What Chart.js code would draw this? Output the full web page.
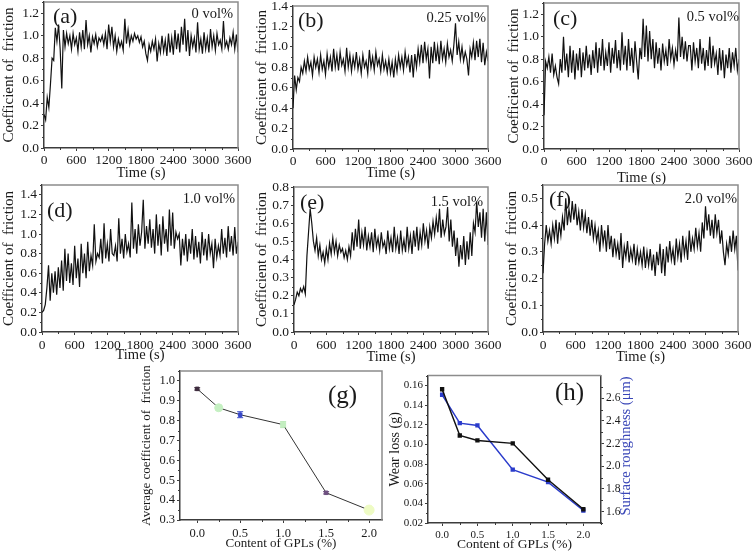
<!DOCTYPE html>
<html>
<head>
<meta charset="utf-8">
<script src="https://cdn.jsdelivr.net/npm/chart.js@4.4.1/dist/chart.umd.min.js"></script>
<style>
  html, body { margin: 0; padding: 0; background: #fff; }
  #fig { position: relative; width: 756px; height: 557px; overflow: hidden;
         font-family: 'Liberation Serif', 'Times New Roman', serif; color: #1a1a1a; }
  #fig canvas { position: absolute; }
  .tag { position: absolute; line-height: 1; white-space: nowrap; }
  .vol { position: absolute; font-size: 14.5px; line-height: 16px; white-space: nowrap; }
  .rtitle { position: absolute; font-size: 14.5px; line-height: 1; white-space: nowrap; color: #3a47b8;
            transform: translate(-50%, -50%) rotate(-90deg); }
</style>
</head>
<body>
<div id="fig"></div>
<script>
// sampling times of the friction traces (s)
const timeSec = [0,30,60,90,120,150,180,210,240,270,300,330,360,390,420,450,480,510,540,570,
  600,630,660,690,720,750,780,810,840,870,900,930,960,990,1020,1050,1080,1110,1140,1170,
  1200,1230,1260,1290,1320,1350,1380,1410,1440,1470,1500,1530,1560,1590,1620,1650,1680,1710,1740,1770,
  1800,1830,1860,1890,1920,1950,1980,2010,2040,2070,2100,2130,2160,2190,2220,2250,2280,2310,2340,2370,
  2400,2430,2460,2490,2520,2550,2580,2610,2640,2670,2700,2730,2760,2790,2820,2850,2880,2910,2940,2970,
  3000,3030,3060,3090,3120,3150,3180,3210,3240,3270,3300,3330,3360,3390,3420,3450,3480,3510,3540,3570,3600];

// coefficient of friction, one array per GPL content
const cof0 = [0.30,0.25,0.45,0.36,0.57,0.80,0.78,1.07,0.95,1.10,
  0.88,0.53,1.05,0.90,1.02,0.93,1.00,0.88,1.02,0.92,
  0.98,0.86,1.03,0.90,1.05,0.88,1.14,0.92,1.00,0.85,
  0.99,0.93,1.01,0.90,0.98,0.95,1.00,0.92,1.02,0.88,
  1.10,0.95,1.08,0.90,1.00,0.86,0.97,0.90,0.95,0.87,
  1.15,0.93,1.05,0.92,1.00,0.95,1.02,0.97,1.00,0.94,
  0.99,0.90,0.95,0.84,0.78,0.92,0.86,0.95,0.88,0.97,
  0.77,0.93,0.85,1.00,0.86,0.96,0.82,1.02,0.85,0.98,
  0.83,1.05,0.88,1.02,0.85,1.08,0.92,1.15,0.86,1.05,
  0.82,1.00,0.90,0.98,0.85,1.12,0.88,0.97,0.84,1.03,
  0.88,0.98,0.85,1.06,0.90,1.00,0.87,1.02,0.92,0.96,
  0.88,1.13,0.90,0.95,0.88,0.98,0.92,1.03,0.88,1.01,
  0.85];
const cof025 = [0.40,0.72,0.58,0.70,0.66,0.80,0.74,0.86,0.76,0.90,
  0.78,0.85,0.72,0.90,0.80,0.88,0.75,0.92,0.78,0.86,
  0.73,0.93,0.80,0.90,0.76,0.98,0.80,0.92,0.77,0.95,
  0.82,0.88,0.76,0.99,0.80,0.92,0.76,0.90,0.80,0.95,
  0.78,0.88,0.74,0.92,0.80,0.86,0.74,0.97,0.80,0.90,
  0.77,0.95,0.82,0.88,0.76,0.92,0.78,0.86,0.75,0.88,
  0.74,0.85,0.70,0.88,0.76,0.92,0.80,0.90,0.77,0.95,
  0.82,0.90,0.75,0.92,0.70,0.93,0.80,0.98,0.85,1.02,
  0.84,1.05,0.88,0.98,0.69,1.00,0.84,1.05,0.86,1.00,
  0.83,1.06,0.88,0.98,0.85,1.03,0.90,0.97,0.86,1.02,
  1.23,0.92,1.05,0.88,1.00,0.86,0.95,0.88,0.72,0.98,
  0.90,1.04,0.87,1.06,0.90,1.08,0.85,1.04,0.82,0.95,
  0.86];
const cof05 = [0.30,0.78,0.72,0.82,0.68,0.85,0.66,0.74,0.64,0.58,
  0.80,0.68,1.00,0.70,0.85,0.64,0.92,0.68,0.88,0.62,
  0.85,0.70,0.90,0.64,0.86,0.70,0.92,0.72,0.84,0.66,
  0.88,0.72,0.95,0.68,0.90,0.74,0.98,0.70,0.86,0.74,
  0.95,0.68,0.90,0.76,0.97,0.72,0.88,0.70,1.04,0.75,
  0.92,0.70,0.98,0.74,0.90,0.68,0.96,0.78,0.62,0.90,
  0.80,1.16,0.82,1.10,0.78,1.05,0.80,0.98,0.72,0.95,
  0.76,0.90,0.70,0.94,0.78,0.88,0.74,0.98,0.80,0.90,
  0.75,0.88,0.78,1.17,0.82,1.00,0.80,0.96,0.78,0.92,
  0.92,0.70,0.95,0.78,0.90,0.72,0.98,0.76,0.90,0.70,
  0.88,0.74,1.00,0.72,0.92,0.76,0.85,0.66,0.90,0.70,
  0.88,0.63,0.84,0.72,0.90,0.68,0.86,0.74,0.90,0.70,
  0.80];
const cof10 = [0.20,0.22,0.28,0.45,0.68,0.32,0.60,0.40,0.62,0.38,
  0.66,0.45,0.73,0.42,0.85,0.52,0.80,0.50,0.70,0.48,
  0.88,0.55,0.75,0.46,0.90,0.60,0.80,0.55,0.92,0.62,
  0.78,0.68,1.10,0.72,0.80,0.76,0.95,0.70,1.11,0.75,
  0.90,0.72,1.05,0.80,0.78,0.88,0.72,1.16,0.80,0.95,
  0.75,1.00,0.82,0.90,0.76,1.32,0.85,1.05,0.80,1.10,
  0.88,1.02,1.35,0.85,1.08,0.90,1.15,0.86,1.05,0.80,
  1.20,0.88,1.10,0.78,1.18,0.90,1.05,0.82,1.25,0.88,
  1.22,0.85,1.02,0.95,1.00,0.68,0.95,0.78,1.00,0.72,
  0.95,0.80,1.05,0.74,0.98,0.76,0.92,0.70,1.02,0.78,
  0.95,0.73,1.00,0.80,0.90,0.65,0.95,0.76,0.88,0.78,
  1.05,0.80,0.96,0.76,1.08,0.82,0.98,0.78,1.07,0.80,
  0.92];
const cof15 = [0.15,0.18,0.22,0.20,0.24,0.22,0.25,0.21,0.42,0.55,
  0.68,0.60,0.50,0.45,0.52,0.42,0.48,0.40,0.44,0.38,
  0.46,0.40,0.49,0.43,0.52,0.44,0.50,0.42,0.48,0.44,
  0.46,0.41,0.45,0.40,0.47,0.42,0.55,0.45,0.57,0.47,
  0.62,0.46,0.55,0.48,0.58,0.45,0.53,0.47,0.55,0.44,
  0.57,0.47,0.52,0.45,0.55,0.47,0.50,0.43,0.56,0.46,
  0.52,0.44,0.58,0.46,0.52,0.43,0.56,0.45,0.51,0.44,
  0.58,0.46,0.53,0.43,0.56,0.47,0.58,0.45,0.55,0.48,
  0.60,0.50,0.56,0.46,0.58,0.52,0.61,0.54,0.63,0.55,
  0.68,0.52,0.62,0.54,0.58,0.69,0.50,0.62,0.47,0.56,
  0.42,0.52,0.36,0.48,0.40,0.53,0.37,0.50,0.40,0.55,
  0.42,0.60,0.55,0.72,0.58,0.66,0.52,0.68,0.50,0.66,
  0.48];
const cof20 = [0.22,0.33,0.40,0.34,0.38,0.33,0.40,0.35,0.42,0.33,
  0.41,0.36,0.43,0.38,0.50,0.40,0.46,0.41,0.49,0.42,
  0.48,0.40,0.45,0.38,0.46,0.39,0.44,0.37,0.43,0.36,
  0.42,0.35,0.40,0.34,0.38,0.30,0.40,0.33,0.38,0.30,
  0.40,0.31,0.36,0.28,0.35,0.29,0.33,0.27,0.37,0.24,
  0.32,0.28,0.34,0.26,0.31,0.27,0.33,0.25,0.31,0.26,
  0.30,0.25,0.32,0.24,0.30,0.25,0.31,0.23,0.29,0.21,
  0.30,0.25,0.33,0.22,0.31,0.21,0.32,0.26,0.34,0.27,
  0.31,0.25,0.35,0.28,0.33,0.26,0.36,0.29,0.34,0.27,
  0.38,0.30,0.35,0.31,0.39,0.32,0.37,0.30,0.41,0.35,
  0.47,0.38,0.44,0.36,0.42,0.35,0.44,0.37,0.42,0.33,
  0.38,0.30,0.25,0.33,0.29,0.36,0.30,0.38,0.31,0.36,
  0.23];

// summary panels
const gplContent = [0, 0.25, 0.5, 1.0, 1.5, 2.0];
const avgFriction = [0.96, 0.865, 0.83, 0.78, 0.437, 0.35];
const avgFrictionErr = [0.006, 0, 0.015, 0.015, 0.006, 0];
const wearLoss = [0.156, 0.109, 0.104, 0.101, 0.064, 0.034];
const roughness = [2.63, 2.38, 2.36, 1.97, 1.86, 1.61];

const SERIF = "'Liberation Serif', 'Times New Roman', serif";
const INK = '#1a1a1a';
const AXIS = '#3c3c3c';
const BLUE = '#2b3ccb';

const fig = document.getElementById('fig');

function addCanvas(x, y, w, h) {
  const c = document.createElement('canvas');
  c.width = w; c.height = h;
  c.style.left = x + 'px'; c.style.top = y + 'px';
  c.style.width = w + 'px'; c.style.height = h + 'px';
  fig.appendChild(c);
  return c;
}

function addText(cls, text, css) {
  const d = document.createElement('div');
  d.className = cls;
  d.textContent = text;
  Object.assign(d.style, css);
  fig.appendChild(d);
}

// light top / right frame lines like the Origin plots
const framePlugin = {
  id: 'frame',
  afterDraw(chart) {
    const a = chart.chartArea, ctx = chart.ctx;
    ctx.save();
    ctx.strokeStyle = '#8c8c8c';
    ctx.lineWidth = 1.5;
    ctx.beginPath();
    ctx.moveTo(a.left, a.top);
    ctx.lineTo(a.right, a.top);
    if (!chart.options.scales.y2) ctx.lineTo(a.right, a.bottom);
    ctx.stroke();
    ctx.restore();
  }
};

// short unlabeled ticks halfway between the major ones
const minorTickPlugin = {
  id: 'minorTicks',
  afterDraw(chart) {
    const ctx = chart.ctx;
    ctx.save();
    ctx.strokeStyle = AXIS;
    ctx.lineWidth = 1;
    Object.values(chart.scales).forEach(s => {
      const t = s.ticks.map(k => k.value);
      const mids = [];
      for (let i = 0; i + 1 < t.length; i++) mids.push((t[i] + t[i + 1]) / 2);
      if (t.length > 1) {
        const d = t[1] - t[0];
        if (t[0] - d / 2 >= s.min) mids.push(t[0] - d / 2);
        if (t[t.length - 1] + d / 2 <= s.max) mids.push(t[t.length - 1] + d / 2);
      }
      ctx.beginPath();
      mids.forEach(v => {
        const p = Math.round(s.getPixelForValue(v)) + 0.5;
        if (s.isHorizontal()) {
          ctx.moveTo(p, s.top); ctx.lineTo(p, s.top + 2);
        } else if (s.position === 'left') {
          ctx.moveTo(s.right, p); ctx.lineTo(s.right - 2, p);
        } else {
          ctx.moveTo(s.left, p); ctx.lineTo(s.left + 2, p);
        }
      });
      ctx.stroke();
    });
    ctx.restore();
  }
};

function fixW(w) {
  return function(s) { s.width = w; s.paddingTop = 0; s.paddingBottom = 0; s.paddingLeft = 0; s.paddingRight = 0; };
}
function fixH(h) {
  return function(s) { s.height = h; s.paddingTop = 0; s.paddingBottom = 0; s.paddingLeft = 0; s.paddingRight = 0; };
}

function axisBase(tickSize, digits, tickPad) {
  return {
    ticks: { font: { family: SERIF, size: tickSize }, color: INK, padding: tickPad,
             maxRotation: 0, autoSkip: false, includeBounds: false,
             callback: v => digits < 0 ? String(v) : Number(v).toFixed(digits) },
    grid: { drawOnChartArea: false, drawTicks: true, tickLength: 3, color: AXIS, lineWidth: 1 },
    border: { display: true, color: AXIS, width: 1.5 }
  };
}

// friction-vs-time panels: plot area [left, top, right, bottom] in page px
const tracePanels = [
  { vals: cof0,   yMax: 1.3,  step: 0.2, area: [44, 2, 238, 148],   axisW: 44, axisH: 34, tickPad: 1,
    tag: '(a)', tagAt: [53, 5],   vol: '0 vol%',    volAt: [233, 5] },
  { vals: cof025, yMax: 1.4,  step: 0.2, area: [293, 6, 488, 149],  axisW: 40, axisH: 33, tickPad: 1,
    tag: '(b)', tagAt: [298, 9],  vol: '0.25 vol%', volAt: [486, 9] },
  { vals: cof05,  yMax: 1.3,  step: 0.2, area: [544, 3, 739, 149],  axisW: 39, axisH: 38, tickPad: 1,
    tag: '(c)', tagAt: [553, 7],  vol: '0.5 vol%',  volAt: [739, 8] },
  { vals: cof10,  yMax: 1.5,  step: 0.2, area: [42, 185, 238, 332], axisW: 42, axisH: 32, tickPad: 2,
    tag: '(d)', tagAt: [47, 199], vol: '1.0 vol%',  volAt: [235, 190] },
  { vals: cof15,  yMax: 0.8,  step: 0.1, area: [294, 187, 488, 332], axisW: 41, axisH: 34, tickPad: 2,
    tag: '(e)', tagAt: [300, 191], vol: '1.5 vol%', volAt: [483, 193] },
  { vals: cof20,  yMax: 0.55, step: 0.1, area: [543, 185, 738, 332], axisW: 40, axisH: 34, tickPad: 2,
    tag: '(f)', tagAt: [549, 188], vol: '2.0 vol%', volAt: [737, 190] }
];

tracePanels.forEach(p => {
  const [L, T, R, B] = p.area;
  const padTop = Math.min(4, T), padRight = 16;
  const x0 = L - p.axisW, y0 = T - padTop;
  const cv = addCanvas(x0, y0, R + padRight - x0, B + p.axisH - y0);

  const xs = axisBase(13.5, -1, p.tickPad);
  Object.assign(xs, {
    type: 'linear', min: 0, max: 3600,
    title: { display: true, text: 'Time (s)', color: INK, padding: 0, font: { family: SERIF, size: 14.5 } },
    afterFit: fixH(p.axisH)
  });
  xs.ticks.stepSize = 600;

  const ys = axisBase(13.5, 1, 2);
  Object.assign(ys, {
    type: 'linear', min: 0, max: p.yMax,
    title: { display: true, text: 'Coefficient of  friction', color: INK, padding: 0, font: { family: SERIF, size: 15 } },
    afterFit: fixW(p.axisW)
  });
  ys.ticks.stepSize = p.step;

  new Chart(cv, {
    type: 'line',
    data: {
      datasets: [{
        data: timeSec.map((t, i) => ({ x: t, y: p.vals[i] })),
        borderColor: '#111', borderWidth: 1.2, pointRadius: 0, tension: 0
      }]
    },
    options: {
      responsive: false, animation: false,
      layout: { padding: { top: padTop, right: padRight, left: 0, bottom: 0 } },
      plugins: { legend: { display: false }, tooltip: { enabled: false } },
      scales: { x: xs, y: ys }
    },
    plugins: [framePlugin, minorTickPlugin]
  });

  addText('tag', p.tag, { left: p.tagAt[0] + 'px', top: p.tagAt[1] + 'px', fontSize: '22px' });
  addText('vol', p.vol, { right: (756 - p.volAt[0]) + 'px', top: p.volAt[1] + 'px' });
});

// (g) average coefficient of friction
const gMarker = {
  style:  ['rect', 'circle', 'rect', 'rect', 'rect', 'circle'],
  radius: [2.5, 4, 2.5, 3.5, 2.5, 5],
  fill:   ['#3d2b3d', '#c5f0c2', '#3848c8', '#c3eec0', '#6e5080', '#eefbc4'],
  err:    ['#3d2b3d', '#c5f0c2', '#3848c8', '#b2e4ae', '#6e5080', '#eefbc4']
};
(function() {
  const L = 180, T = 369, R = 382, B = 520, axisW = 41, axisH = 31, padTop = 4, padRight = 6;
  const x0 = L - axisW, y0 = T - padTop;
  const cv = addCanvas(x0, y0, R + padRight - x0, B + axisH - y0);

  const datasets = [{
    data: gplContent.map((c, i) => ({ x: c, y: avgFriction[i] })),
    showLine: true, borderColor: '#333', borderWidth: 1,
    pointStyle: gMarker.style, pointRadius: gMarker.radius,
    pointBackgroundColor: gMarker.fill, pointBorderColor: gMarker.fill, pointBorderWidth: 1
  }];
  gplContent.forEach((c, i) => {
    if (!avgFrictionErr[i]) return;
    datasets.push({
      data: [{ x: c, y: avgFriction[i] - avgFrictionErr[i] }, { x: c, y: avgFriction[i] + avgFrictionErr[i] }],
      showLine: true, borderColor: gMarker.err[i], borderWidth: 1,
      pointStyle: 'line', pointRadius: 3, pointBorderColor: gMarker.err[i], pointBorderWidth: 1
    });
  });

  const xs = axisBase(12.5, 1, 3);
  Object.assign(xs, {
    type: 'linear', min: -0.2, max: 2.15,
    title: { display: true, text: 'Content of GPLs (%)', color: INK, padding: 0, font: { family: SERIF, size: 13 } },
    afterFit: fixH(axisH)
  });
  xs.ticks.stepSize = 0.5;
  const ys = axisBase(12.5, 1, 2);
  Object.assign(ys, {
    type: 'linear', min: 0.3, max: 1.05,
    title: { display: true, text: 'Average coefficient of  friction', color: INK, padding: 0, font: { family: SERIF, size: 13 } },
    afterFit: fixW(axisW)
  });
  ys.ticks.stepSize = 0.1;

  new Chart(cv, {
    type: 'scatter',
    data: { datasets },
    options: {
      responsive: false, animation: false,
      layout: { padding: { top: padTop, right: padRight, left: 0, bottom: 0 } },
      plugins: { legend: { display: false }, tooltip: { enabled: false } },
      scales: { x: xs, y: ys }
    },
    plugins: [framePlugin, minorTickPlugin]
  });
  addText('tag', '(g)', { left: '328px', top: '382px', fontSize: '25px' });
})();

// (h) wear loss and surface roughness
(function() {
  const L = 428, T = 374, R = 601, B = 523, axisW = 41, axis2W = 33, axisH = 30, padTop = 4;
  const x0 = L - axisW, y0 = T - padTop;
  const cv = addCanvas(x0, y0, R + axis2W - x0, B + axisH - y0);

  const xs = axisBase(11, 1, 3);
  Object.assign(xs, {
    type: 'linear', min: -0.2, max: 2.25,
    title: { display: true, text: 'Content of GPLs (%)', color: INK, padding: 0, font: { family: SERIF, size: 13.5 } },
    afterFit: fixH(axisH)
  });
  xs.ticks.stepSize = 0.5;
  const ys = axisBase(11, 2, 2);
  Object.assign(ys, {
    type: 'linear', position: 'left', min: 0.02, max: 0.17,
    title: { display: true, text: 'Wear loss (g)', color: INK, padding: 0, font: { family: SERIF, size: 14 } },
    afterFit: fixW(axisW)
  });
  ys.ticks.stepSize = 0.02;
  const y2s = axisBase(11.5, 1, 2);
  Object.assign(y2s, {
    type: 'linear', position: 'right', min: 1.5, max: 2.8,
    afterFit: fixW(axis2W)
  });
  y2s.ticks.stepSize = 0.2;

  new Chart(cv, {
    type: 'scatter',
    data: {
      datasets: [
        { data: gplContent.map((c, i) => ({ x: c, y: wearLoss[i] })), yAxisID: 'y',
          showLine: true, borderColor: '#111', borderWidth: 1.5,
          pointStyle: 'rect', pointRadius: 2, pointBackgroundColor: '#111', pointBorderColor: '#111' },
        { data: gplContent.map((c, i) => ({ x: c, y: roughness[i] })), yAxisID: 'y2',
          showLine: true, borderColor: BLUE, borderWidth: 1.5,
          pointStyle: 'rect', pointRadius: 2, pointBackgroundColor: BLUE, pointBorderColor: BLUE }
      ]
    },
    options: {
      responsive: false, animation: false,
      layout: { padding: { top: padTop, right: 0, left: 0, bottom: 0 } },
      plugins: { legend: { display: false }, tooltip: { enabled: false } },
      scales: { x: xs, y: ys, y2: y2s }
    },
    plugins: [framePlugin, minorTickPlugin]
  });
  addText('tag', '(h)', { left: '555px', top: '379px', fontSize: '25px' });
  // right axis title reads bottom-to-top, as in the source figure
  addText('rtitle', 'Surface roughness (μm)', { left: '625px', top: '446px' });
})();
</script>
</body>
</html>
